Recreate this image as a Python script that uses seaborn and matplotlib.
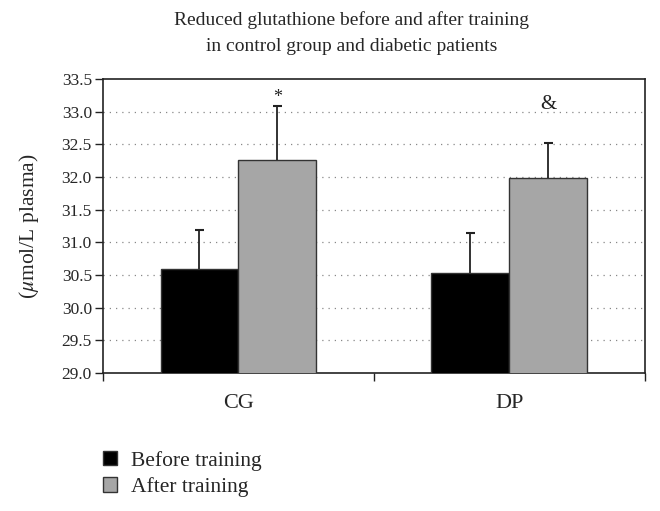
import pandas as pd
import numpy as np
import matplotlib
matplotlib.use("Agg")
import matplotlib.pyplot as plt
import seaborn as sns

# values
groups = ["CG", "DP"]
conditions = ["Before training", "After training"]
before_mean = [30.59, 30.53]
after_mean = [32.26, 31.99]
before_err = [0.60, 0.62]
after_err = [0.83, 0.54]
marks = ["*", "&"]          # significance marks above the "after" bars
mark_y = [33.22, 33.12]
y_ticks = [29.0, 29.5, 30.0, 30.5, 31.0, 31.5, 32.0, 32.5, 33.0, 33.5]

df = pd.DataFrame({
    "group": groups * 2,
    "condition": [conditions[0]] * 2 + [conditions[1]] * 2,
    "value": before_mean + after_mean,
    "err": before_err + after_err,
})

sns.set_theme(style="white")
plt.rcParams["font.family"] = ["Liberation Serif", "DejaVu Serif"]
plt.rcParams["mathtext.fontset"] = "stix"

fig = plt.figure(figsize=(6.6, 5.11), dpi=100)
ax = fig.add_axes([0.156, 0.270, 0.821, 0.575])

sns.barplot(
    data=df, x="group", y="value", hue="condition",
    order=groups, hue_order=conditions,
    palette=["#000000", "#a6a6a6"], width=0.575, gap=0,
    edgecolor="#333333", linewidth=1.0, errorbar=None, ax=ax, zorder=3,
)

# one-sided error bars (upper only), placed on the bars drawn by seaborn
bars = ax.patches[:4]
cap = 0.016
for bar, (_, row) in zip(bars, df.iterrows()):
    cx = bar.get_x() + bar.get_width() / 2
    top = bar.get_y() + bar.get_height()
    ax.vlines(cx, top, top + row["err"], color="#222222", linewidth=1.3, zorder=4)
    ax.hlines(top + row["err"], cx - cap, cx + cap, color="#222222", linewidth=1.5, zorder=4)

# marks above the after-training bars
after_bars = bars[2:]
for bar, m, my in zip(after_bars, marks, mark_y):
    cx = bar.get_x() + bar.get_width() / 2
    ax.text(cx, my, m, ha="center", va="center",
            fontsize=15 if m == "&" else 13, color="#222222", zorder=5)

ax.set_ylim(29.0, 33.5)
ax.set_xlim(-0.5, 1.5)
ax.set_yticks(y_ticks)
ax.set_yticklabels([f"{t:.1f}" for t in y_ticks], fontsize=12.5)
ax.tick_params(axis="y", left=True, direction="out", length=6, width=1, color="#222222", pad=2)
ax.tick_params(axis="x", which="major", length=0, labelsize=16, pad=15)
ax.set_xticks([-0.5, 0.5, 1.5], minor=True)
ax.tick_params(axis="x", which="minor", bottom=True, direction="out", length=6, width=1, color="#222222")

for t in y_ticks[1:-1]:
    ax.axhline(t, color="#888888", linestyle=(0, (1, 4)), linewidth=0.9, zorder=1)

for s in ax.spines.values():
    s.set_color("#222222")
    s.set_linewidth(1.2)

ax.set_xlabel("")
ax.set_ylabel(r"($\mu$mol/L plasma)", fontsize=15.5)
ax.yaxis.set_label_coords(-0.115, 0.5)

fig.text(0.533, 0.978, "Reduced glutathione before and after training\nin control group and diabetic patients",
         ha="center", va="top", fontsize=14, linespacing=1.7)

sns.move_legend(ax, "upper left", bbox_to_anchor=(0.126, 0.156), bbox_transform=fig.transFigure,
                frameon=False, title=None, fontsize=15.5, handlelength=0.65, handleheight=0.65,
                handletextpad=0.65, labelspacing=0.3)

fig.savefig("out.png", dpi=100)
